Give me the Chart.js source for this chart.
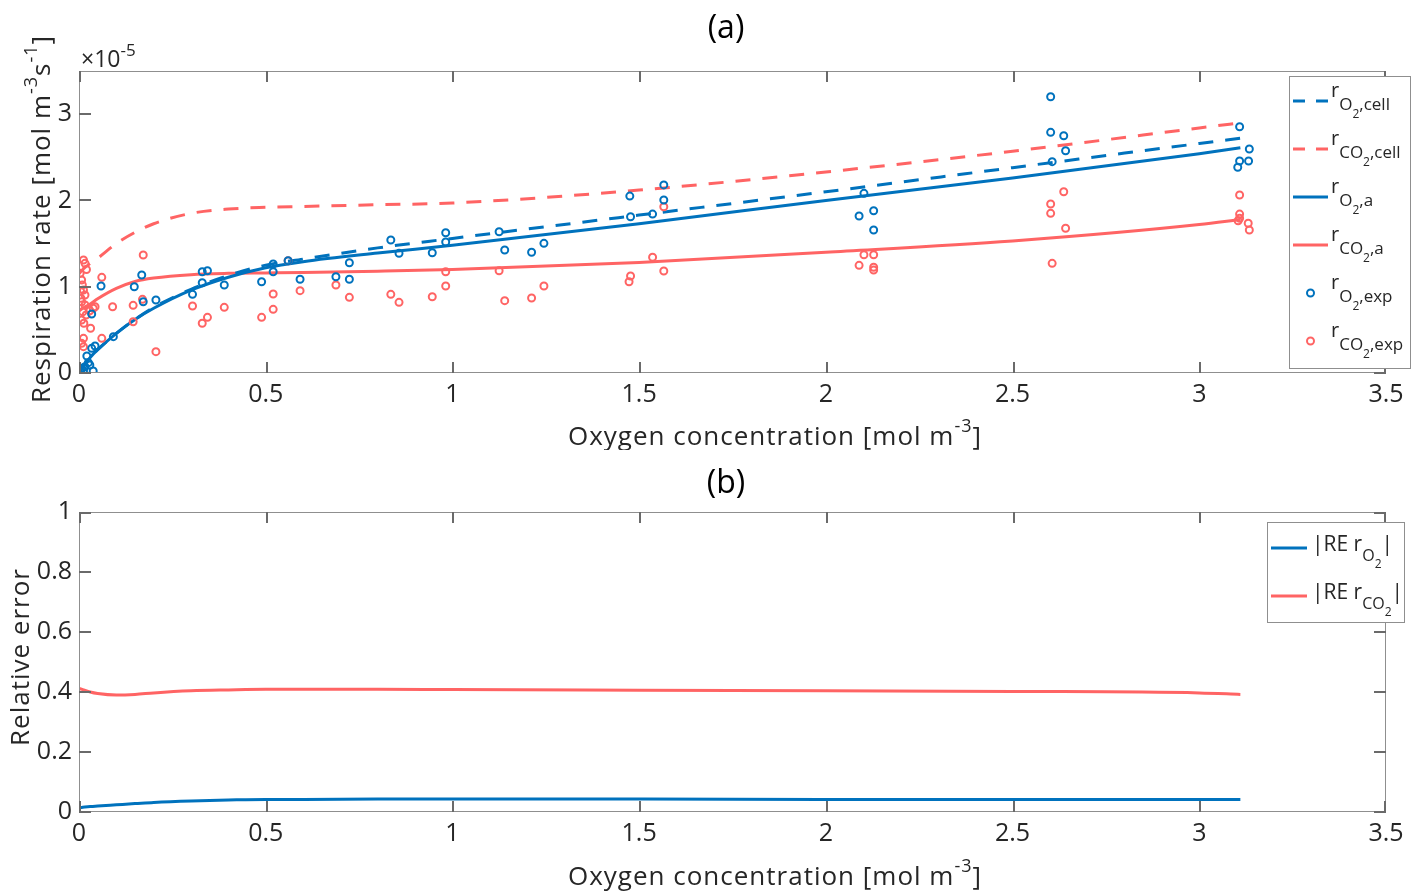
<!DOCTYPE html>
<html>
<head>
<meta charset="utf-8">
<script src="https://cdn.jsdelivr.net/npm/chart.js@4.4.1/dist/chart.umd.min.js"></script>
<style>
  html, body { margin: 0; padding: 0; background: #fff; }
  #wrap { position: relative; width: 1418px; height: 893px; }
  canvas { position: absolute; left: 0; }
</style>
</head>
<body>
<div id="wrap">
  <canvas id="chartA" width="1418" height="450" style="top:0"></canvas>
  <canvas id="chartB" width="1418" height="443" style="top:450px"></canvas>
</div>
<script>
// oxygen concentration [mol m-3] where the model curves are read
const modelX = [0, 0.01, 0.03, 0.05, 0.1, 0.15, 0.2, 0.3, 0.4, 0.5, 0.6, 0.8, 1.0, 1.5, 2.0, 2.5, 3.0, 3.11];
// respiration rates, x1e-5 mol m-3 s-1
const rO2Cell  = [0, 0.07, 0.18, 0.27, 0.46, 0.62, 0.76, 0.97, 1.13, 1.25, 1.32, 1.45, 1.56, 1.83, 2.10, 2.38, 2.66, 2.72];
const rCO2Cell = [1.15, 1.20, 1.27, 1.33, 1.50, 1.63, 1.73, 1.85, 1.90, 1.92, 1.93, 1.95, 1.97, 2.12, 2.33, 2.57, 2.84, 2.90];
const rO2A     = [0, 0.07, 0.18, 0.27, 0.46, 0.62, 0.75, 0.96, 1.11, 1.22, 1.29, 1.39, 1.48, 1.73, 2.00, 2.26, 2.54, 2.61];
const rCO2A    = [0.72, 0.75, 0.80, 0.86, 0.98, 1.06, 1.10, 1.14, 1.155, 1.16, 1.165, 1.18, 1.20, 1.28, 1.40, 1.53, 1.72, 1.78];
// relative errors
const reO2  = [0.014, 0.016, 0.018, 0.020, 0.024, 0.028, 0.032, 0.037, 0.040, 0.042, 0.042, 0.043, 0.043, 0.043, 0.042, 0.042, 0.042, 0.042];
const reCO2 = [0.412, 0.408, 0.400, 0.395, 0.390, 0.392, 0.397, 0.404, 0.407, 0.409, 0.409, 0.409, 0.408, 0.406, 0.404, 0.402, 0.397, 0.392];

// measured points
const expO2X = [0.003, 0.005, 0.007, 0.012, 0.016, 0.021, 0.025, 0.029, 0.034, 0.038, 0.043, 0.034, 0.059, 0.092, 0.148, 0.168, 0.172, 0.206,
  0.304, 0.33, 0.344, 0.33, 0.389, 0.489, 0.52, 0.52, 0.56,
  0.592, 0.688, 0.724, 0.724, 0.835, 0.857, 0.946, 0.982, 0.982, 1.125, 1.14, 1.212, 1.245, 1.477, 1.536, 1.566, 1.475, 1.566,
  2.089, 2.128, 2.128, 2.102,
  2.602, 2.602, 2.637, 2.642, 2.606, 3.108, 3.134, 3.108, 3.132, 3.103];
const expO2Y = [0.027, 0.01, 0.054, 0.023, 0.073, 0.197, 0.12, 0.093, 0.286, 0.023, 0.313, 0.684, 1.008, 0.421, 1.0, 1.136, 0.826, 0.846,
  0.912, 1.174, 1.185, 1.046, 1.02, 1.058, 1.263, 1.174, 1.301,
  1.086, 1.116, 1.278, 1.086, 1.541, 1.387, 1.394, 1.626, 1.518, 1.637, 1.425, 1.399, 1.503, 1.811, 1.842, 2.005, 2.05, 2.18,
  1.819, 1.881, 1.657, 2.082,
  3.202, 2.789, 2.75, 2.576, 2.449, 2.854, 2.596, 2.457, 2.457, 2.384];
const expCO2X = [0.003, 0.007, 0.012, 0.016, 0.007, 0.016, 0.01, 0.007, 0.013, 0.019, 0.005, 0.012, 0.016, 0.02, 0.012, 0.007, 0.012,
  0.031, 0.061, 0.029, 0.038, 0.043, 0.061, 0.09, 0.145, 0.17, 0.145, 0.172, 0.206, 0.004, 0.009,
  0.304, 0.33, 0.344, 0.389, 0.489, 0.52, 0.52, 0.56, 0.592,
  0.688, 0.724, 0.835, 0.857, 0.946, 0.982, 0.982, 1.125, 1.14, 1.212, 1.245, 1.473, 1.477, 1.536, 1.566, 1.566,
  2.089, 2.102, 2.128, 2.128, 2.128,
  2.637, 2.602, 2.602, 2.642, 2.606, 3.108, 3.108, 3.104, 3.131, 3.134, 3.108];
const expCO2Y = [1.155, 1.078, 0.962, 0.904, 0.826, 0.788, 0.71, 0.614, 0.576, 0.672, 0.866, 1.309, 1.271, 1.2, 0.402, 0.344, 0.305,
  0.518, 0.402, 0.722, 0.75, 0.768, 1.109, 0.768, 0.784, 0.854, 0.594, 1.367, 0.247, 0.95, 1.02,
  0.776, 0.576, 0.645, 0.761, 0.645, 0.915, 0.738, 1.301, 0.954,
  1.02, 0.877, 0.912, 0.819, 0.884, 1.174, 1.008, 1.185, 0.838, 0.869, 1.008, 1.058, 1.124, 1.341, 1.182, 1.927,
  1.248, 1.371, 1.371, 1.225, 1.193,
  2.101, 1.958, 1.85, 1.677, 1.271, 2.063, 1.842, 1.765, 1.735, 1.657, 1.793];

const xTicks = [0, 0.5, 1, 1.5, 2, 2.5, 3, 3.5];
const yTicksA = [0, 1, 2, 3];
const yTicksB = [0, 0.2, 0.4, 0.6, 0.8, 1];

const BLUE = '#0072bd';
const RED = '#ff6464';
const AXIS = '#8f8f8f';
const TICK = '#6a6a6a';
const LABEL = '#262626';
const FONT = '"Open Sans", sans-serif';
const DASH = [15, 12];

const pts = (xs, ys) => xs.map((x, i) => ({ x: x, y: ys[i] }));

function lineSet(ys, color, dashed) {
  return {
    data: pts(modelX, ys), showLine: true, borderColor: color, borderWidth: 3,
    borderDash: dashed ? DASH : [], pointRadius: 0, cubicInterpolationMode: 'monotone', order: 2
  };
}
function pointSet(xs, ys, color) {
  return {
    data: pts(xs, ys), showLine: false, borderColor: color, backgroundColor: 'rgba(0,0,0,0)',
    borderWidth: 2, pointRadius: 3.5, order: 1
  };
}

// rich text: segments [text, size, dy]
function richWidth(ctx, segs) {
  let w = 0;
  segs.forEach(s => { ctx.font = s[1] + 'px ' + FONT; w += ctx.measureText(s[0]).width; });
  return w;
}
function drawRich(ctx, segs, x, y, center) {
  let cx = center ? x - richWidth(ctx, segs) / 2 : x;
  ctx.textAlign = 'left';
  ctx.textBaseline = 'alphabetic';
  segs.forEach(s => {
    ctx.font = s[1] + 'px ' + FONT;
    ctx.fillText(s[0], cx, y + (s[2] || 0));
    cx += ctx.measureText(s[0]).width;
  });
}

// matlab style box with inward ticks on all sides
function makeBox(yTicks) {
  return {
    id: 'box',
    afterDraw(chart) {
      const ctx = chart.ctx;
      const a = chart.chartArea;
      const sx = chart.scales.x, sy = chart.scales.y;
      const L = Math.round(a.left), R = Math.round(a.right);
      const T = Math.round(a.top), B = Math.round(sy.getPixelForValue(sy.min));
      ctx.save();
      ctx.setLineDash([]);
      ctx.strokeStyle = AXIS;
      ctx.lineWidth = 1;
      ctx.strokeRect(L + 0.5, T + 0.5, R - L - 1, B - T - 1);
      ctx.fillStyle = TICK;
      xTicks.forEach(v => {
        const p = Math.min(Math.round(sx.getPixelForValue(v)), R - 2);
        ctx.fillRect(p, T, 2, 11);
        ctx.fillRect(p, B - 11, 2, 11);
      });
      yTicks.forEach(v => {
        const p = Math.max(Math.round(sy.getPixelForValue(v)) - 1, T);
        ctx.fillRect(L, p, 12, 2);
        ctx.fillRect(R - 12, p, 12, 2);
      });
      ctx.restore();
    }
  };
}

function drawLegend(ctx, box, items, cfg) {
  ctx.save();
  ctx.fillStyle = '#fff';
  ctx.fillRect(box[0], box[1], box[2] - box[0], box[3] - box[1]);
  ctx.strokeStyle = AXIS;
  ctx.lineWidth = 1;
  ctx.strokeRect(box[0] + 0.5, box[1] + 0.5, box[2] - box[0], box[3] - box[1]);
  items.forEach((it, i) => {
    const y = cfg.y0 + i * cfg.step;
    ctx.strokeStyle = it.color;
    if (it.kind === 'point') {
      ctx.lineWidth = 2;
      ctx.setLineDash([]);
      ctx.beginPath();
      ctx.arc((cfg.x0 + cfg.x1) / 2, y, 3.5, 0, Math.PI * 2);
      ctx.stroke();
    } else {
      ctx.lineWidth = 3;
      ctx.setLineDash(it.kind === 'dash' ? [12, 11] : []);
      ctx.beginPath();
      ctx.moveTo(cfg.x0, y); ctx.lineTo(cfg.x1, y);
      ctx.stroke();
    }
    ctx.setLineDash([]);
    ctx.fillStyle = LABEL;
    drawRich(ctx, it.text, cfg.tx, y + cfg.base, false);
  });
  ctx.restore();
}

function sub(name, tail) {
  const s = [['r', 20, 0], [name, 17, 13], ['2', 12, 21]];
  if (tail) s.push([tail, 17, 13]);
  return s;
}

const xTitle = [['Oxygen concentration [mol m', 26, 0], ['-3', 18, -13], [']', 26, 0]];

const textA = {
  id: 'textA',
  afterDraw(chart) {
    const ctx = chart.ctx;
    ctx.save();
    ctx.fillStyle = '#000';
    drawRich(ctx, [['(a)', 32, 0]], 726, 38, true);
    ctx.fillStyle = LABEL;
    drawRich(ctx, [['\u00d710', 23, 0], ['-5', 17, -11]], 81, 67, false);
    ctx.letterSpacing = '1px';
    drawRich(ctx, xTitle, 775, 445, true);
    ctx.translate(50, 219);
    ctx.rotate(-Math.PI / 2);
    drawRich(ctx, [['Respiration rate [mol m', 26, 0], ['-3', 18, -13], ['s', 26, 0], ['-1', 18, -13], [']', 26, 0]], 0, 0, true);
    ctx.restore();
    drawLegend(ctx, [1289, 76, 1410, 368], [
      { kind: 'dash', color: BLUE, text: sub('O', ',cell') },
      { kind: 'dash', color: RED, text: sub('CO', ',cell') },
      { kind: 'line', color: BLUE, text: sub('O', ',a') },
      { kind: 'line', color: RED, text: sub('CO', ',a') },
      { kind: 'point', color: BLUE, text: sub('O', ',exp') },
      { kind: 'point', color: RED, text: sub('CO', ',exp') }
    ], { x0: 1293, x1: 1328, tx: 1331, y0: 101, step: 48, base: -4 });
  }
};

const textB = {
  id: 'textB',
  afterDraw(chart) {
    const ctx = chart.ctx;
    ctx.save();
    ctx.fillStyle = '#000';
    drawRich(ctx, [['(b)', 32, 0]], 726, 43, true);
    ctx.fillStyle = LABEL;
    ctx.letterSpacing = '1px';
    drawRich(ctx, xTitle, 775, 435, true);
    ctx.translate(29, 207);
    ctx.rotate(-Math.PI / 2);
    drawRich(ctx, [['Relative error', 26, 0]], 0, 0, true);
    ctx.restore();
    drawLegend(ctx, [1267, 522 - 450, 1404, 622 - 450], [
      { kind: 'line', color: BLUE, text: [['|RE r', 21, 0], ['O', 16, 10], ['2', 12, 17], ['|', 21, 0]] },
      { kind: 'line', color: RED, text: [['|RE r', 21, 0], ['CO', 16, 10], ['2', 12, 17], ['|', 21, 0]] }
    ], { x0: 1271, x1: 1307, tx: 1312, y0: 98, step: 48, base: 3 });
  }
};

function scalesFor(yMin, yMax, yTicks, xHeight) {
  const tickFont = { family: FONT, size: 25 };
  return {
    x: {
      type: 'linear', min: 0, max: 3.5,
      afterBuildTicks: s => { s.ticks = xTicks.map(v => ({ value: v })); },
      afterFit: s => { s.height = xHeight; },
      ticks: { font: tickFont, color: LABEL, padding: 7, maxRotation: 0, autoSkip: false, callback: v => String(v) },
      grid: { display: false, drawTicks: false },
      border: { display: false }
    },
    y: {
      type: 'linear', min: yMin, max: yMax,
      afterBuildTicks: s => { s.ticks = yTicks.map(v => ({ value: v })); },
      afterFit: s => { s.width = 79; },
      ticks: { font: tickFont, color: LABEL, padding: 7, autoSkip: false, callback: v => String(v) },
      grid: { display: false, drawTicks: false },
      border: { display: false }
    }
  };
}

function options(padTop, yMin, yMax, yTicks, xHeight) {
  return {
    responsive: false,
    animation: false,
    layout: { padding: { left: 0, right: 32, top: padTop, bottom: 0 } },
    plugins: { legend: { display: false }, tooltip: { enabled: false }, title: { display: false } },
    scales: scalesFor(yMin, yMax, yTicks, xHeight)
  };
}

new Chart(document.getElementById('chartA'), {
  type: 'scatter',
  data: {
    datasets: [
      pointSet(expO2X, expO2Y, BLUE),
      pointSet(expCO2X, expCO2Y, RED),
      lineSet(rO2Cell, BLUE, true),
      lineSet(rCO2Cell, RED, true),
      lineSet(rO2A, BLUE, false),
      lineSet(rCO2A, RED, false)
    ]
  },
  options: options(71, 0, 3.5, yTicksA, 77),
  plugins: [makeBox(yTicksA), textA]
});

new Chart(document.getElementById('chartB'), {
  type: 'scatter',
  data: {
    datasets: [
      lineSet(reO2, BLUE, false),
      lineSet(reCO2, RED, false)
    ]
  },
  options: options(62, 0, 1, yTicksB, 81),
  plugins: [makeBox(yTicksB), textB]
});
</script>
</body>
</html>
